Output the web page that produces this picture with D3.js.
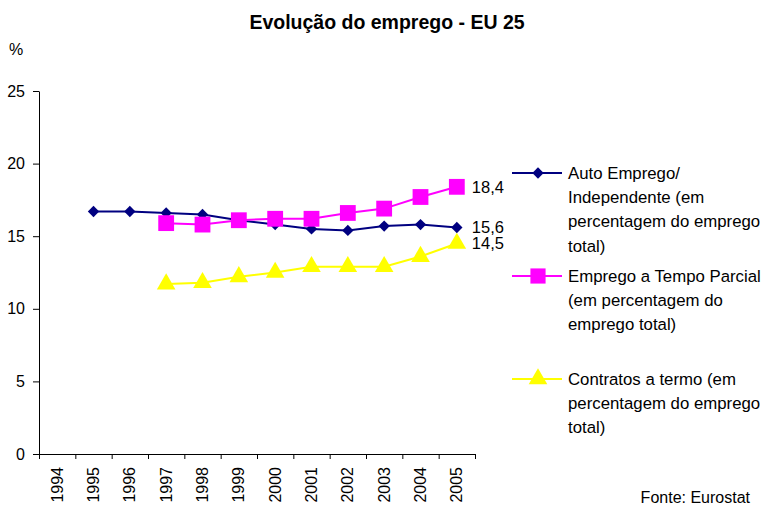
<!DOCTYPE html>
<html>
<head>
<meta charset="utf-8">
<script src="https://cdn.jsdelivr.net/npm/d3@7"></script>
<style>
  body { margin: 0; background: #fff; }
  text { font-family: "Liberation Sans", Arial, sans-serif; fill: #000; }
</style>
</head>
<body>
<div id="chart"></div>
<script>
// data
const years = ['1994', '1995', '1996', '1997', '1998', '1999', '2000', '2001', '2002', '2003', '2004', '2005'];
const autoEmprego = [null, 16.7, 16.7, 16.6, 16.5, 16.1, 15.8, 15.5, 15.4, 15.7, 15.8, 15.6];
const tempoParcial = [null, null, null, 15.9, 15.8, 16.1, 16.2, 16.2, 16.6, 16.9, 17.7, 18.4];
const contratosTermo = [null, null, null, 11.7, 11.8, 12.2, 12.5, 12.9, 12.9, 12.9, 13.6, 14.5];
const yTicks = [0, 5, 10, 15, 20, 25];

const series = [
  { name: ['Auto Emprego/', 'Independente (em', 'percentagem do emprego', 'total)'], values: autoEmprego, color: '#000080', symbol: 'diamond', label: '15,6', legendY: 173 },
  { name: ['Emprego a Tempo Parcial', '(em percentagem do', 'emprego total)'], values: tempoParcial, color: '#ff00ff', symbol: 'square', label: '18,4', legendY: 276 },
  { name: ['Contratos a termo (em', 'percentagem do emprego', 'total)'], values: contratosTermo, color: '#ffff00', symbol: 'triangle', label: '14,5', legendY: 379 }
];

const width = 765, height = 506;
const plot = { left: 39, right: 475, top: 91, bottom: 454 };

const svg = d3.select('#chart').append('svg')
  .attr('width', width)
  .attr('height', height);

const x = d3.scaleBand().domain(years).range([plot.left, plot.right]);
const xEdges = d3.scaleLinear().domain([0, years.length]).range([plot.left, plot.right]);
const y = d3.scaleLinear().domain([0, 25]).range([plot.bottom, plot.top]);

// title
svg.append('text')
  .attr('x', 387).attr('y', 29)
  .attr('text-anchor', 'middle')
  .style('font-size', '19.5px').style('font-weight', 'bold')
  .text('Evolução do emprego - EU 25');

svg.append('text')
  .attr('x', 9).attr('y', 55)
  .style('font-size', '16px')
  .text('%');

// y axis
const yAxis = svg.append('g')
  .attr('transform', 'translate(' + plot.left + ',0)')
  .call(d3.axisLeft(y).tickValues(yTicks).tickSize(6).tickSizeOuter(0).tickPadding(8));
yAxis.selectAll('text').style('font-size', '16px').style('font-family', '"Liberation Sans", Arial, sans-serif');
yAxis.selectAll('line, path').attr('stroke', '#000');

// x axis: ticks between categories, labels at centres
const xTicks = svg.append('g')
  .attr('transform', 'translate(0,' + plot.bottom + ')')
  .call(d3.axisBottom(xEdges).tickValues(d3.range(years.length + 1)).tickFormat('').tickSize(5).tickSizeOuter(0));
xTicks.selectAll('line, path').attr('stroke', '#000');

const xLabels = svg.append('g')
  .attr('transform', 'translate(0,' + plot.bottom + ')')
  .call(d3.axisBottom(x).tickSize(0).tickPadding(0));
xLabels.select('.domain').remove();
xLabels.selectAll('text')
  .style('font-size', '16px')
  .style('font-family', '"Liberation Sans", Arial, sans-serif')
  .attr('text-anchor', 'end')
  .attr('transform', 'translate(0,13) rotate(-90)')
  .attr('dx', 0)
  .attr('dy', '0.35em')
  .attr('y', 0);

const symbolType = { diamond: d3.symbolSquare, square: d3.symbolSquare, triangle: d3.symbolTriangle };
const symbolSize = { diamond: 64, square: 250, triangle: 150 };
const symbolRot = { diamond: 45, square: 0, triangle: 0 };

const line = d3.line()
  .defined(d => d.v !== null)
  .x(d => x(d.year) + x.bandwidth() / 2)
  .y(d => y(d.v));

series.forEach(s => {
  const pts = years.map((yr, i) => ({ year: yr, v: s.values[i] }));
  svg.append('path')
    .datum(pts)
    .attr('fill', 'none')
    .attr('stroke', s.color)
    .attr('stroke-width', 2)
    .attr('d', line);

  svg.append('g').selectAll('path')
    .data(pts.filter(d => d.v !== null))
    .enter().append('path')
    .attr('transform', d => 'translate(' + (x(d.year) + x.bandwidth() / 2) + ',' + y(d.v) + ') rotate(' + symbolRot[s.symbol] + ')')
    .attr('d', d3.symbol().type(symbolType[s.symbol]).size(symbolSize[s.symbol]))
    .attr('fill', s.color);

  // end value label
  const last = pts[pts.length - 1];
  svg.append('text')
    .attr('x', x(last.year) + x.bandwidth() / 2 + 15)
    .attr('y', y(last.v))
    .attr('dy', '0.35em')
    .style('font-size', '16.5px')
    .text(s.label);

  // legend
  const lg = svg.append('g').attr('transform', 'translate(512,' + s.legendY + ')');
  lg.append('line').attr('x1', 0).attr('x2', 50).attr('stroke', s.color).attr('stroke-width', 2);
  lg.append('path')
    .attr('transform', 'translate(26,0) rotate(' + symbolRot[s.symbol] + ')')
    .attr('d', d3.symbol().type(symbolType[s.symbol]).size(s.symbol === 'square' ? 230 : symbolSize[s.symbol]))
    .attr('fill', s.color);
  lg.append('text')
    .attr('x', 56)
    .style('font-size', '16.8px')
    .selectAll('tspan')
    .data(s.name)
    .enter().append('tspan')
    .attr('x', 56)
    .attr('y', (d, i) => i * 24.3)
    .attr('dy', '0.35em')
    .text(d => d);
});

svg.append('text')
  .attr('x', 750).attr('y', 503)
  .attr('text-anchor', 'end')
  .style('font-size', '16px')
  .text('Fonte: Eurostat');
</script>
</body>
</html>
